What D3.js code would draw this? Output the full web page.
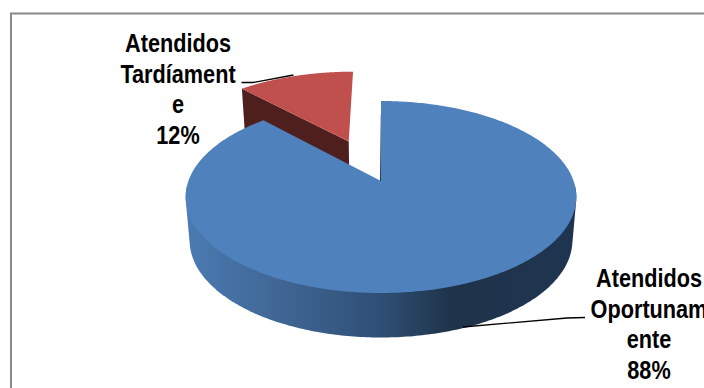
<!DOCTYPE html>
<html>
<head>
<meta charset="utf-8">
<script src="https://cdn.jsdelivr.net/npm/d3@7"></script>
<style>
html,body{margin:0;padding:0;background:#fff;overflow:hidden}
svg{display:block}
text{font-family:"Liberation Sans",Arial,sans-serif;font-weight:bold;fill:#000}
</style>
</head>
<body>
<svg id="chart" width="704" height="388"></svg>
<script>
// Categories and shares of the pie
const categories = ["Atendidos Oportunamente", "Atendidos Tardíamente"];
const shares = [88, 12];
const labelLines = [
  ["Atendidos", "Oportunam", "ente", "88%"],
  ["Atendidos", "Tardíament", "e", "12%"]
];
const topColors = ["#4f81bd", "#c0504d"];
const wallColor = "#4f1f1e";
const sideColor = "#1f3450";

const svg = d3.select("#chart");

// Linear scales taking disc coordinates (-1..1) to the unprojected plot box
const centerX = 381, centerY = 181;
const scaleU = d3.scaleLinear().domain([-1, 1]).range([centerX - 192.6, centerX + 192.6]);
const scaleV = d3.scaleLinear().domain([-1, 1]).range([centerY - 93.33, centerY + 93.33]);
const tilt = -1 / 6;

// Perspective projection of a disc point onto the top face
function projectTop(u, v) {
  const w = 1 + tilt * v;
  return [centerX + (scaleU(u) - centerX) / w, centerY + (scaleV(v) - centerY) / w];
}
// The lower rim sits below the top face and slightly narrower
function projectBottom(u, v) {
  const p = projectTop(u, v);
  return [381 + (p[0] - 381) * 0.98, p[1] + 43 + 1.5 * v];
}

// Pie angles start at twelve o'clock and run clockwise
const arcs = d3.pie().value(d => d).sort(null)(shares);

function rimPoints(a, offset, n = 160) {
  return d3.range(n + 1).map(i => {
    const t = a.startAngle + (a.endAngle - a.startAngle) * i / n;
    return [offset[0] + Math.sin(t), offset[1] - Math.cos(t)];
  });
}
const line = d3.line();

// Frame of the chart area
svg.append("path")
  .attr("d", "M11,388V13.5H704")
  .attr("fill", "none").attr("stroke", "#8a8a8a").attr("stroke-width", 2);

const defs = svg.append("defs");
const grad = defs.append("linearGradient").attr("id", "wallShade")
  .attr("gradientUnits", "userSpaceOnUse")
  .attr("x1", 187).attr("x2", 577).attr("y1", 0).attr("y2", 0);
[[0, "#4a7bb2"], [0.25, "#3f6593"], [0.5, "#2e4f75"], [0.68, "#1f3349"], [1, sideColor]]
  .forEach(s => grad.append("stop").attr("offset", s[0]).attr("stop-color", s[1]));

// Detached slice, pulled out along its bisector
const redArc = arcs[1];
const mid = (redArc.startAngle + redArc.endAngle) / 2;
const pull = 0.49;
const redOffset = [Math.sin(mid) * pull, -Math.cos(mid) * pull];
const redRim = rimPoints(redArc, redOffset);
const apex = redOffset;
const first = redRim[0];

svg.append("path").attr("fill", wallColor).attr("d", line([
  projectTop(first[0], first[1]), projectTop(apex[0], apex[1]),
  projectBottom(apex[0], apex[1]), projectBottom(first[0], first[1])
]) + "Z");
svg.append("path").attr("fill", topColors[1]).attr("d",
  line([projectTop(apex[0], apex[1]), ...redRim.map(p => projectTop(p[0], p[1]))]) + "Z");

// Main slice: the side wall is the hull of the near half of both rims
const blueRim = rimPoints(arcs[0], [0, 0], 400);
const nearRim = blueRim.filter(p => p[1] > 0.05);
const wallHull = d3.polygonHull([
  ...nearRim.map(p => projectTop(p[0], p[1])),
  ...nearRim.map(p => projectBottom(p[0], p[1]))
]);
svg.append("path").attr("fill", "url(#wallShade)").attr("d", line(wallHull) + "Z");

// Thin sliver of the cut face seen along the vertical edge
const backTop = projectTop(0, -0.8), hub = projectTop(0, 0);
svg.append("path").attr("fill", sideColor).attr("d", line([
  backTop, hub, [hub[0] - 1, hub[1]], [backTop[0] - 0.2, backTop[1]]
]) + "Z");

svg.append("path").attr("fill", topColors[0]).attr("d",
  line([hub, ...blueRim.map(p => projectTop(p[0], p[1]))]) + "Z");

// Leader lines
const leaders = [
  [[463, 327], [567, 318], [585, 317.5]],
  [[241.5, 82.5], [253, 82.5], [293.5, 75]]
];
svg.selectAll(".leader").data(leaders).join("path")
  .attr("class", "leader").attr("fill", "none").attr("stroke", "#000").attr("stroke-width", 1.3)
  .attr("d", d => line(d));

// Data labels, set in a horizontally condensed bold face
const labelAnchors = [[649, 287], [178, 52]];
labelLines.forEach((lines, i) => {
  const g = svg.append("g").attr("transform", `translate(${labelAnchors[i][0]},${labelAnchors[i][1]}) scale(0.85,1)`);
  g.selectAll("text").data(lines).join("text")
    .attr("text-anchor", "middle").attr("font-size", 25.5)
    .attr("y", (d, j) => j * 30.7).text(d => d);
});
</script>
</body>
</html>
